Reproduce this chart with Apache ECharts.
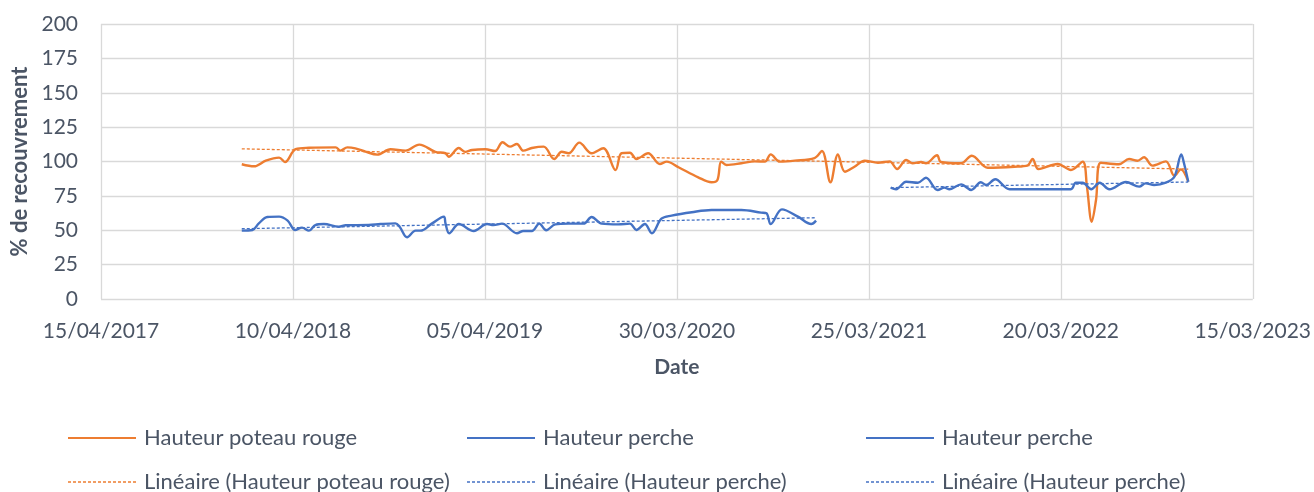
<!DOCTYPE html>
<html>
<head>
<meta charset="utf-8">
<script src="https://cdn.jsdelivr.net/npm/echarts@6/dist/echarts.min.js"></script>
<style>
  html, body { margin: 0; padding: 0; background: #fff; }
  #chart { width: 1314px; height: 492px; }
</style>
</head>
<body>
<div id="chart"></div>
<script>
// dates (jj/mm/aaaa) and % de recouvrement
const datesRouge = [
  "2018-01-04","2018-01-27","2018-02-18","2018-03-15","2018-03-26","2018-04-15","2018-05-10","2018-06-29",
  "2018-07-08","2018-07-21","2018-08-05","2018-08-24","2018-09-15","2018-10-10","2018-11-07","2018-12-03",
  "2019-01-02","2019-01-21","2019-01-27","2019-02-15","2019-02-27","2019-03-12","2019-04-06","2019-04-24",
  "2019-05-08","2019-05-22","2019-06-04","2019-06-16","2019-07-02","2019-07-24","2019-08-13","2019-08-27",
  "2019-09-09","2019-09-29","2019-10-22","2019-11-13","2019-12-06","2019-12-17","2020-01-02","2020-01-14",
  "2020-02-05","2020-02-27","2020-03-11","2020-04-02","2020-05-09","2020-06-03","2020-06-14","2020-06-21",
  "2020-07-01","2020-07-29","2020-08-23","2020-09-11","2020-09-22","2020-10-09","2020-11-06","2020-12-13",
  "2020-12-27","2021-01-12","2021-01-26","2021-02-08","2021-02-26","2021-03-17","2021-04-11","2021-05-03",
  "2021-05-17","2021-06-03","2021-06-15","2021-07-01","2021-07-10","2021-07-31","2021-08-07","2021-09-14",
  "2021-10-04","2021-11-03","2021-12-23","2022-01-17","2022-01-26","2022-02-06","2022-03-14","2022-04-08",
  "2022-04-30","2022-05-08","2022-05-17","2022-05-25","2022-06-03","2022-07-07","2022-07-26","2022-08-11",
  "2022-08-23","2022-09-08","2022-10-03","2022-10-19","2022-10-31","2022-11-14"
];
const poteauRouge = [
  98, 96.5, 100.6, 102.8, 99.6, 109, 110, 110.3,
  107.9, 110.3, 109.6, 107.2, 105, 108.9, 107.9, 112.3,
  107, 106, 103.5, 109.8, 107, 108.4, 108.9, 107.6,
  114, 110.8, 112.7, 107.9, 109.8, 110.8, 101.8, 107.1,
  106, 113.7, 106, 109.6, 93.8, 106, 106.4, 101.8,
  106, 98.2, 99.9, 95.8, 88.5, 84.9, 86.5, 99.9,
  97.5, 98.7, 100.1, 99.9, 105.2, 99.9, 100.6, 102.5,
  107.6, 84.9, 105.2, 92.6, 96.2, 100.6, 99.1, 100.1,
  94.5, 101.1, 98.7, 99.6, 98.7, 104.5, 99.6, 98.7,
  104.2, 95.5, 96.2, 97.2, 101.8, 94.5, 98.2, 93.8,
  99.9, 81.7, 56.2, 72, 99.1, 98, 101.8, 100.6,
  103.1, 97, 100.1, 89.5, 94.3, 85.3
];
// linear trend (Linéaire) at first and last date
const trendRouge = [109.2, 94.5];

const datesPerche1 = [
  "2018-01-04","2018-01-24","2018-02-05","2018-02-21","2018-03-15","2018-03-31","2018-04-14","2018-04-27",
  "2018-05-10","2018-05-22","2018-06-07","2018-07-05","2018-07-18","2018-08-30","2018-09-21","2018-10-19",
  "2018-10-27","2018-11-10","2018-11-26","2018-12-05","2018-12-27","2019-01-18","2019-01-21","2019-01-28",
  "2019-02-15","2019-03-15","2019-04-09","2019-04-21","2019-05-07","2019-06-04","2019-06-16","2019-07-02",
  "2019-07-16","2019-07-29","2019-08-15","2019-09-09","2019-10-07","2019-10-22","2019-11-10","2019-12-11",
  "2020-01-02","2020-01-14","2020-01-30","2020-02-12","2020-03-01","2020-03-20","2020-04-27","2020-06-03",
  "2020-07-29","2020-09-04","2020-09-14","2020-09-22","2020-10-13","2020-11-12","2020-12-07","2020-12-16"
];
const perche1 = [
  49.7, 50.2, 55, 59.6, 59.9, 57, 50.2, 51.9,
  49.7, 53.8, 54.5, 52.6, 53.6, 53.8, 54.5, 55,
  52.6, 44.9, 49.7, 49.7, 55, 59.9, 55, 47.8,
  54.5, 49.5, 54.5, 53.8, 54.8, 47.8, 49.5, 49.5,
  54.8, 50, 54.3, 54.8, 54.8, 59.6, 54.8, 54.3,
  54.8, 50.2, 54.5, 47.8, 58.4, 60.6, 63.1, 64.7,
  64.7, 62.8, 62.3, 54.5, 65.2, 59.9, 54.5, 57
];
const trendPerche1 = [51.1, 59.1];

const datesPerche2 = [
  "2021-05-05","2021-05-15","2021-06-03","2021-06-25","2021-07-10","2021-08-01","2021-08-14","2021-08-23",
  "2021-09-14","2021-10-03","2021-10-21","2021-10-31","2021-11-17","2021-12-14","2022-04-08","2022-04-17",
  "2022-04-30","2022-05-16","2022-06-01","2022-06-19","2022-07-20","2022-08-14","2022-08-26","2022-09-11",
  "2022-10-03","2022-10-19","2022-11-01","2022-11-06","2022-11-14"
];
const perche2 = [
  81, 79.8, 85.3, 84.6, 88.2, 79.3, 81, 79.8,
  83.4, 79.3, 84.9, 82.9, 87.1, 79.8, 79.8, 84.6,
  84.6, 79.8, 84.6, 79.8, 85.1, 81.7, 84.1, 82.9,
  84.6, 88.9, 105.2, 98.7, 85.3
];
const trendPerche2 = [81, 85.1];

const yTicks = [0, 25, 50, 75, 100, 125, 150, 175, 200];

const ORIGIN = Date.UTC(2017, 3, 15);
const DAY = 86400000;
const toDay = d => (Date.parse(d) - ORIGIN) / DAY;

function pairs(dates, vals) {
  return dates.map((d, i) => [toDay(d), vals[i]]);
}
function endPairs(dates, ends) {
  return [[toDay(dates[0]), ends[0]], [toDay(dates[dates.length - 1]), ends[1]]];
}

function fmtDate(v) {
  const d = new Date(ORIGIN + v * DAY);
  const dd = String(d.getUTCDate()).padStart(2, '0');
  const mm = String(d.getUTCMonth() + 1).padStart(2, '0');
  return dd + '/' + mm + '/' + d.getUTCFullYear();
}

const ORANGE = '#ED7D31';
const BLUE = '#4472C4';
const FONT = 'Lato';
const TXT = '#4B5565';

function mainLine(name, color, data) {
  return {
    name: name, type: 'line', data: data, smooth: 0.35,
    symbol: 'none', lineStyle: { color: color, width: 2.4 },
    itemStyle: { color: color }, animation: false
  };
}
function trendLine(name, color, data) {
  return {
    name: name, type: 'line', data: data,
    symbol: 'none', lineStyle: { color: color, width: 1.3, type: [3, 2] },
    itemStyle: { color: color }, animation: false, z: 3
  };
}

// legend icons drawn as paths: full line or small dashes
const solidIcon = 'path://M0,0H68V2.2H0Z';
let dashPath = '';
for (let i = 0; i < 14; i++) dashPath += 'M' + (i * 5) + ',0h3v1.3h-3Z';
const dashIcon = 'path://' + dashPath;

function legendItem(name, left, top, dashed) {
  return {
    data: [name], left: left, top: top, padding: 0,
    icon: dashed ? dashIcon : solidIcon,
    itemWidth: 68, itemHeight: dashed ? 1.3 : 2.2,
    selectedMode: false,
    textStyle: { fontFamily: FONT, fontSize: 22, lineHeight: 24, color: TXT, padding: [0, 0, 0, 3] }
  };
}

let chart = echarts.init(document.getElementById('chart'));
let option = {
  backgroundColor: '#fff',
  grid: { left: 101, right: 59, top: 24, bottom: 193 },
  legend: [
    legendItem('Hauteur poteau rouge', 68, 426, false),
    legendItem('Linéaire (Hauteur poteau rouge)', 68, 470, true),
    legendItem('Hauteur perche', 467, 426, false),
    legendItem('Linéaire (Hauteur perche)', 467, 470, true),
    legendItem('Hauteur perche', 866, 426, false),
    legendItem('Linéaire (Hauteur perche)', 866, 470, true)
  ],
  xAxis: {
    type: 'value', min: 0, max: 2160, interval: 360,
    name: 'Date', nameLocation: 'middle', nameGap: 58,
    nameTextStyle: { fontFamily: FONT, fontSize: 21, fontWeight: 'bold', color: TXT },
    axisLine: { show: false }, axisTick: { show: false },
    splitLine: { show: true, lineStyle: { color: '#D9D9D9', width: 1.3 } },
    axisLabel: { formatter: fmtDate, fontFamily: FONT, fontSize: 21, color: TXT, margin: 22 }
  },
  yAxis: {
    type: 'value', min: yTicks[0], max: yTicks[yTicks.length - 1], interval: 25,
    name: '% de recouvrement', nameLocation: 'middle', nameGap: 62,
    nameTextStyle: { fontFamily: FONT, fontSize: 22, fontWeight: 'bold', color: TXT },
    axisLine: { show: false }, axisTick: { show: false },
    splitLine: { show: true, lineStyle: { color: '#D9D9D9', width: 1.3 } },
    axisLabel: { fontFamily: FONT, fontSize: 21, color: TXT, margin: 23 }
  },
  series: [
    mainLine('Hauteur poteau rouge', ORANGE, pairs(datesRouge, poteauRouge)),
    mainLine('Hauteur perche', BLUE, pairs(datesPerche1, perche1)),
    mainLine('Hauteur perche', BLUE, pairs(datesPerche2, perche2)),
    trendLine('Linéaire (Hauteur poteau rouge)', ORANGE, endPairs(datesRouge, trendRouge)),
    trendLine('Linéaire (Hauteur perche)', BLUE, endPairs(datesPerche1, trendPerche1)),
    trendLine('Linéaire (Hauteur perche)', BLUE, endPairs(datesPerche2, trendPerche2))
  ]
};
option && chart.setOption(option);
</script>
</body>
</html>
